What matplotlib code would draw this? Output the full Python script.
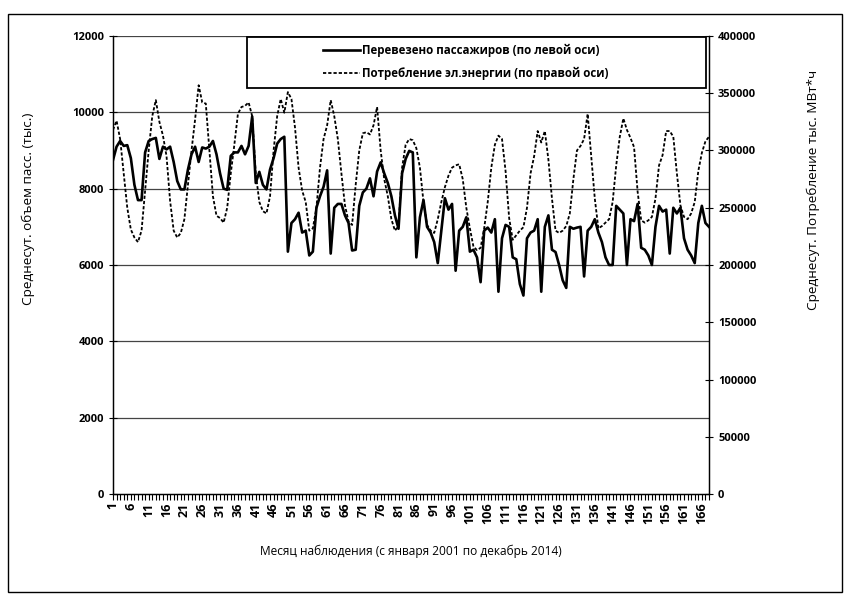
import numpy as np
import matplotlib
matplotlib.use("Agg")
import matplotlib.pyplot as plt
from matplotlib.patches import Rectangle

# Среднесуточный объем перевезенных пассажиров, тыс. (левая ось)
passengers = [
    8750, 9100, 9250, 9120, 9140, 8800, 8100, 7700, 7700, 8950,
    9250, 9300, 9330, 8780, 9100, 9030, 9100, 8700, 8200, 7980,
    7980, 8500, 8900, 9100, 8700, 9080, 9050, 9100, 9250, 8900,
    8400, 8000, 7970, 8860, 8950, 8950, 9120, 8900, 9120, 9890,
    8150, 8440, 8100, 7980, 8500, 8800, 9180, 9300, 9360, 6350,
    7100, 7200, 7370, 6850, 6900, 6250, 6350, 7500, 7800, 8050,
    8480, 6300, 7500, 7600, 7600, 7300, 7100, 6380, 6400, 7550,
    7900, 8000, 8270, 7800, 8450, 8690, 8400, 8150, 7800, 7300,
    6950, 8400, 8780, 8990, 8950, 6200, 7250, 7700, 7000, 6850,
    6600, 6050, 6900, 7750, 7450, 7600, 5850, 6900, 7000, 7250,
    6350, 6400, 6200, 5550, 6900, 6980, 6850, 7200, 5300, 6700,
    7050, 7000, 6200, 6150, 5500, 5200, 6700, 6850, 6900, 7200,
    5300, 7000, 7300, 6400, 6340, 6000, 5600, 5400, 7000, 6950,
    6980, 7000, 5700, 6900, 7000, 7200, 6850, 6600, 6200, 6000,
    6000, 7550, 7450, 7350, 6000, 7200, 7150, 7600, 6450, 6400,
    6250, 6000, 7000, 7550, 7400, 7450, 6300, 7500, 7350, 7500,
    6700, 6400, 6250, 6050, 7100, 7550, 7100, 7000,
]

# Среднесуточное потребление электроэнергии, тыс. МВт*ч (правая ось)
energy = [
    318000, 326000, 310000, 280000, 250000, 231000, 224000, 220000, 230000, 265000,
    300000, 330000, 344000, 325000, 313000, 295000, 256000, 230000, 224000, 228000,
    240000, 270000, 300000, 327000, 357000, 342000, 341000, 300000, 260000, 243000,
    241000, 237000, 250000, 280000, 305000, 332000, 338000, 339000, 342000, 330000,
    280000, 255000, 247000, 245000, 260000, 300000, 330000, 345000, 333000, 351000,
    345000, 320000, 285000, 265000, 255000, 230000, 232000, 250000, 285000, 310000,
    322000, 344000, 330000, 310000, 280000, 252000, 238000, 235000, 270000, 300000,
    315000, 316000, 314000, 322000, 338000, 300000, 275000, 260000, 240000, 230000,
    234000, 285000, 305000, 310000, 309000, 302000, 285000, 255000, 235000, 230000,
    228000, 240000, 255000, 268000, 278000, 285000, 287000, 288000, 275000, 250000,
    232000, 216000, 213000, 215000, 232000, 255000, 285000, 305000, 313000, 310000,
    282000, 241000, 222000, 226000, 230000, 233000, 250000, 280000, 295000, 317000,
    307000, 317000, 292000, 258000, 230000, 228000, 230000, 234000, 245000, 275000,
    300000, 304000, 310000, 332000, 295000, 258000, 232000, 234000, 237000, 240000,
    255000, 287000, 312000, 328000, 318000, 311000, 303000, 264000, 239000, 237000,
    239000, 242000, 258000, 287000, 296000, 317000, 317000, 312000, 280000, 252000,
    242000, 240000, 245000, 255000, 282000, 298000, 308000, 312000,
]

months = np.arange(1, len(passengers) + 1)
tick_months = list(range(1, 167, 5))

left_label = "Среднесут. объем пасс. (тыс.)"
right_label = "Среднесут. Потребление тыс. МВт*ч"
x_label = "Месяц наблюдения (с января 2001 по декабрь 2014)"
legend_labels = ["Перевезено пассажиров (по левой оси)",
                 "Потребление эл.энергии (по правой оси)"]

plt.rcParams['font.family'] = ['Open Sans', 'DejaVu Sans']

fig = plt.figure(figsize=(8.48, 6.03), dpi=100)
ax = fig.add_axes([113 / 848, 1 - 494 / 603, (709 - 113) / 848, (494 - 36) / 603])
ax2 = ax.twinx()

l1, = ax.plot(months, passengers, color="black", lw=1.9, zorder=3)
l2, = ax2.plot(months, energy, color="black", lw=1.3, linestyle=(0, (1.8, 1.1)), zorder=3)

ax.set_xlim(1, len(months))
ax.set_ylim(0, 12000)
ax2.set_ylim(0, 400000)
ax.set_yticks(range(0, 12001, 2000))
ax2.set_yticks(range(0, 400001, 50000))

ax.set_xticks(tick_months)
ax.set_xticklabels([str(m) for m in tick_months], rotation=90, fontsize=9, fontweight="bold")
ax.set_xticks(months, minor=True)
ax.tick_params(axis="x", which="both", direction="out", length=4, width=0.8, pad=2)
ax.tick_params(axis="y", direction="inout", length=6, width=0.8, labelsize=8)
ax2.tick_params(axis="y", direction="inout", length=6, width=0.8, labelsize=8)
for lab in ax.get_yticklabels() + ax2.get_yticklabels():
    lab.set_fontweight("bold")

for v in range(2000, 12001, 2000):
    ax.axhline(v, color="#444444", lw=0.9, zorder=1)

ax.spines["top"].set_visible(False)
ax2.spines["top"].set_visible(False)
for a in (ax, ax2):
    for sp in ["left", "right", "bottom"]:
        a.spines[sp].set_linewidth(0.9)

# axis titles sit higher than the plot centre in the original
ax.set_ylabel(left_label, fontsize=9.7)
ax.yaxis.set_label_coords((35 - 113) / 596, (494 - 209) / 458)
ax2.set_ylabel(right_label, fontsize=9.7)
ax2.yaxis.set_label_coords((807 - 113) / 596, (494 - 190) / 458)
ax.set_xlabel(x_label, fontsize=8.6, labelpad=15)

# legend box (frame drawn separately so the entries sit centred in a wide box)
box_x0 = (247 - 113) / 596
box_h = 52 / 458
ax2.add_patch(Rectangle((box_x0, 1 - box_h), 0.995 - box_x0, box_h - 0.002,
                        transform=ax2.transAxes, facecolor="white",
                        edgecolor="black", lw=1.3, zorder=4))
leg = ax2.legend([l1, l2], legend_labels, loc="center",
                 bbox_to_anchor=((box_x0 + 0.995) / 2 - 0.018, 1 - box_h / 2),
                 prop={"size": 8.3, "weight": "bold"}, frameon=False,
                 handlelength=3.2, handletextpad=0.2, labelspacing=0.9)
leg.set_zorder(5)

fig.patches.append(Rectangle((8 / 848, 1 - 592 / 603), (842 - 8) / 848, (592 - 14) / 603,
                             transform=fig.transFigure, fill=False, edgecolor="black", lw=1.0))

fig.savefig("out.png", dpi=100, facecolor="white")
